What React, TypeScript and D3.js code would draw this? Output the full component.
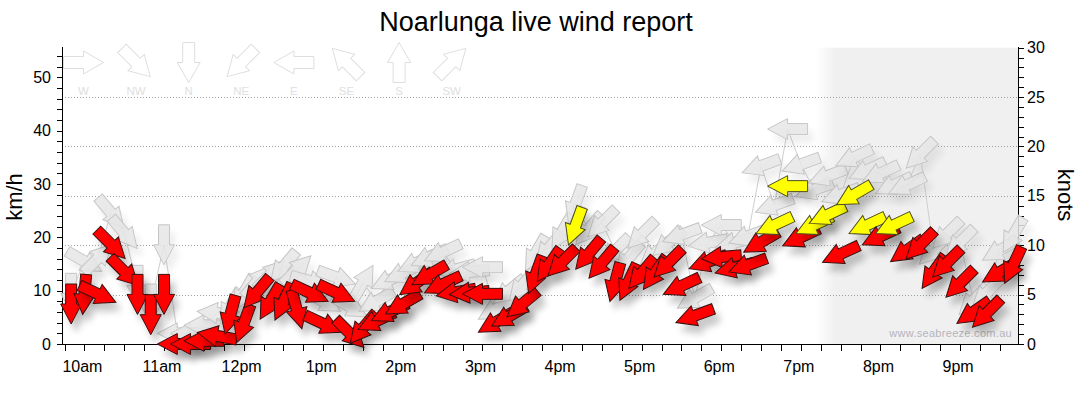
import React from "react";
import * as d3 from "d3";

const times = ["09:50","10:00","10:10","10:20","10:30","10:40","10:50","11:00","11:10","11:20","11:30","11:40","11:50","12:00","12:10","12:20","12:30","12:40","12:50","13:00","13:10","13:20","13:30","13:40","13:50","14:00","14:10","14:20","14:30","14:40","14:50","15:00","15:10","15:20","15:30","15:40","15:50","16:00","16:10","16:20","16:30","16:40","16:50","17:00","17:10","17:20","17:30","17:40","17:50","18:00","18:10","18:20","18:30","18:40","18:50","19:00","19:10","19:20","19:30","19:40","19:50","20:00","20:10","20:20","20:30","20:40","20:50","21:00","21:10","21:20","21:30","21:40"];
const avgKmh = [7.5,9.3,9.4,18.7,13.6,9.3,5.5,9.3,0,0,0.6,1.5,5.5,3.8,9.7,7.9,7.9,6.5,9.6,3.8,9.6,2,3,4.3,6,7.5,11.4,13,11.2,9.7,9.6,9.4,4.1,5.2,7.5,13,14.8,15.4,22.1,16.9,15.2,11.6,11.6,13.3,13.3,15.2,10.9,5.3,15.4,16.3,14.3,14.8,19.1,22.3,29.6,20,22.3,24.2,16.9,28,22.3,20.2,22.3,17.6,18.6,13.5,15.2,11.4,6,5.8,13.5,14.8];
const avgDir = [0,5,295,315,315,0,0,0,90,90,90,100,15,20,40,30,25,345,295,295,295,315,40,65,65,60,55,60,65,80,85,90,60,60,50,20,35,45,20,40,40,15,25,40,35,45,65,70,70,85,75,70,60,65,90,65,65,65,65,60,65,65,65,55,45,35,45,45,55,45,60,25];
const gustKmh = [9.5,15.5,16,24.6,20.8,11,7.5,18.6,2,2,3.5,5.8,7,9.5,11.7,13,14.5,13.9,11.8,8,12.5,7,11.5,8,12,13.3,15.2,16.3,17.2,14,13.5,14.4,6.5,10,11,17,18,21,26.2,21.5,22.7,17.5,16,20.6,17,19,20.5,8.6,19,22.3,19,20.2,33.4,26,40.3,33.7,28.9,31.5,28,35,32.6,32,29.8,29.8,35.6,17.6,20.6,19.1,8.2,9.6,17.6,20.4];
const gustDir = [0,300,225,320,320,0,0,0,90,90,90,95,30,30,220,225,40,225,285,300,290,300,210,60,65,65,65,65,65,75,85,90,60,50,40,30,40,30,20,40,45,45,40,45,50,50,70,60,80,90,75,70,70,70,90,70,70,70,70,65,65,65,65,65,45,45,45,45,45,45,60,30];

const hourLabels = ["10am","11am","12pm","1pm","2pm","3pm","4pm","5pm","6pm","7pm","8pm","9pm"];
const compassLabels = ["W","NW","N","NE","E","SE","S","SW"];
const compassDirs = [270,315,0,45,90,135,180,225];
const kmhTicks = [0,10,20,30,40,50];
const knotTicks = [0,5,10,15,20,25,30];
const gridKnots = [5,10,15,20,25];

const W = 1080, H = 414;
const KT = 1.852;
const FONT = "'Liberation Sans', Arial, sans-serif";

const toMin = (s: string) => { const [h, m] = s.split(":").map(Number); return h * 60 + m; };

const x = d3.scaleLinear().domain([583.1, 1304.4]).range([62, 1019]);
const y = d3.scaleLinear().domain([0, 30 * KT]).range([344, 47.7]);

function arrowPath(shaft: number, head: number, len: number, headLen: number) {
  const h = len / 2;
  const p = d3.path();
  p.moveTo(-shaft, -h);
  p.lineTo(shaft, -h);
  p.lineTo(shaft, h - headLen);
  p.lineTo(head, h - headLen);
  p.lineTo(0, h);
  p.lineTo(-head, h - headLen);
  p.lineTo(-shaft, h - headLen);
  p.closePath();
  return p.toString();
}
const dataArrow = arrowPath(5.5, 10.5, 40, 20);
const legendArrow = arrowPath(6, 11.5, 40, 20);

export default function App() {
  const pts = times.map((t, i) => ({
    m: toMin(t), v: avgKmh[i], d: avgDir[i], g: gustKmh[i], gd: gustDir[i],
  }));
  const gustLine = d3.line<any>().x((p) => x(p.m)).y((p) => y(p.g))(pts) || "";
  const minorX = d3.range(585, 1305, 15);
  const leftMinor = d3.range(0, 56, 2);
  const rightMinor = d3.range(0, 31, 1);

  return (
    <svg width={W} height={H} style={{ position: "absolute", left: 0, top: 0, background: "#fff" }} fontFamily={FONT}>
      <defs>
        <linearGradient id="night" x1="0" x2="1" y1="0" y2="0">
          <stop offset="0" stopColor="#f0f0f0" stopOpacity="0" />
          <stop offset="0.1" stopColor="#f0f0f0" stopOpacity="1" />
          <stop offset="1" stopColor="#f0f0f0" stopOpacity="1" />
        </linearGradient>
        <filter id="sh" x="-60%" y="-60%" width="220%" height="220%">
          <feGaussianBlur in="SourceAlpha" stdDeviation="3.5" />
          <feOffset dx="5" dy="8" result="o" />
          <feComponentTransfer in="o" result="s">
            <feFuncA type="linear" slope="0.22" />
          </feComponentTransfer>
          <feMerge>
            <feMergeNode in="s" />
            <feMergeNode in="SourceGraphic" />
          </feMerge>
        </filter>
        <filter id="shg" x="-60%" y="-60%" width="220%" height="220%">
          <feGaussianBlur in="SourceAlpha" stdDeviation="3.5" />
          <feOffset dx="5" dy="8" result="o" />
          <feComponentTransfer in="o" result="s">
            <feFuncA type="linear" slope="0.08" />
          </feComponentTransfer>
          <feMerge>
            <feMergeNode in="s" />
            <feMergeNode in="SourceGraphic" />
          </feMerge>
        </filter>
      </defs>

      <text x={536} y={31} textAnchor="middle" fontSize={27} fill="#000">Noarlunga live wind report</text>

      {/* night shading */}
      <rect x={815} y={y(30 * KT)} width={1019 - 815} height={344 - y(30 * KT)} fill="url(#night)" />

      {/* grid */}
      {gridKnots.map((k) => (
        <line key={k} x1={62} x2={1019} y1={Math.round(y(k * KT)) + 0.5} y2={Math.round(y(k * KT)) + 0.5}
          stroke="#a0a0a0" strokeDasharray="1,2" />
      ))}

      {/* compass legend */}
      {compassLabels.map((lab, i) => {
        const cx = 83.5 + i * 52.6;
        return (
          <g key={lab}>
            <path d={legendArrow} transform={`translate(${cx},62.5) rotate(${compassDirs[i]})`} fill="#fff" stroke="#dedede" />
            <text x={cx} y={95} textAnchor="middle" fontSize={11.5} fill="#e0e0e0">{lab}</text>
          </g>
        );
      })}

      {/* axes */}
      <g stroke="#000" shapeRendering="crispEdges">
        <line x1={62.5} x2={62.5} y1={47} y2={344.5} />
        <line x1={1018.5} x2={1018.5} y1={47} y2={344.5} />
        <line x1={62} x2={1019} y1={344.5} y2={344.5} />
        {leftMinor.map((v) => (
          <line key={"l" + v} x1={57} x2={62} y1={Math.round(y(v)) + 0.5} y2={Math.round(y(v)) + 0.5} />
        ))}
        {rightMinor.map((k) => (
          <line key={"r" + k} x1={1019} x2={1024} y1={Math.round(y(k * KT)) + 0.5} y2={Math.round(y(k * KT)) + 0.5} />
        ))}
        {minorX.map((m) => (
          <line key={"b" + m} x1={Math.round(x(m)) + 0.5} x2={Math.round(x(m)) + 0.5} y1={345} y2={351} />
        ))}
      </g>
      {kmhTicks.map((v) => (
        <text key={"lt" + v} x={51} y={y(v) + 5.5} textAnchor="end" fontSize={16} fill="#000">{v}</text>
      ))}
      {knotTicks.map((k) => (
        <text key={"rt" + k} x={1027} y={y(k * KT) + 5.5} textAnchor="start" fontSize={16} fill="#000">{k}</text>
      ))}
      {hourLabels.map((lab, i) => (
        <text key={lab} x={x(600 + i * 60) - 2} y={371.5} textAnchor="middle" fontSize={16} fill="#000">{lab}</text>
      ))}
      <text transform="translate(22,197) rotate(-90)" textAnchor="middle" fontSize={22} fill="#000">km/h</text>
      <text transform="translate(1058,195) rotate(90)" textAnchor="middle" fontSize={22} fill="#000">knots</text>

      <text x={1012} y={337} textAnchor="end" fontSize={11} fill="#b4b4bc" letterSpacing="0.3">www.seabreeze.com.au</text>

      {/* gust line and arrows */}
      <path d={gustLine} fill="none" stroke="#cfcfcf" strokeWidth={1} />
      {pts.map((p, i) => (
        <g key={"g" + i} transform={`translate(${x(p.m)},${y(p.g)})`} filter="url(#shg)">
          <path d={dataArrow} transform={`rotate(${p.gd})`} fill="#e6e6e6" fillOpacity={0.85} stroke="#c6c6c6" strokeWidth={1} />
        </g>
      ))}

      {/* average arrows */}
      {pts.map((p, i) => (
        <g key={"a" + i} transform={`translate(${x(p.m)},${y(p.v)})`} filter="url(#sh)">
          <path d={dataArrow} transform={`rotate(${p.d})`} fill={p.v > 21 ? "#ffff00" : "#ff0000"} stroke={p.v > 21 ? "#4a4a20" : "#3a1010"} strokeWidth={1} />
        </g>
      ))}
    </svg>
  );
}
